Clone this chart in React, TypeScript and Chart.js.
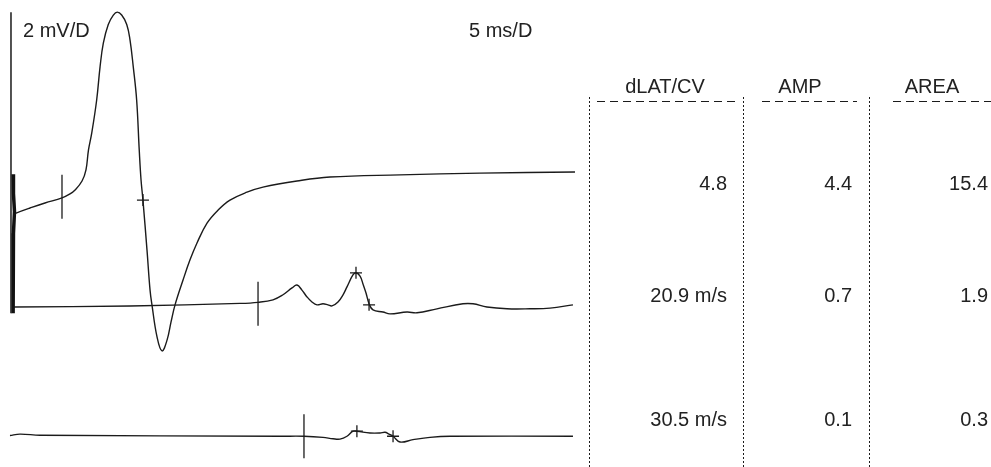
import React, { useEffect, useRef } from "react";
import { Chart, registerables } from "chart.js";

Chart.register(...registerables);

// ---- Waveform data: time in ms, amplitude in mV relative to each trace's own baseline ----
const trace1X = [0.18, 0.36, 1.6, 2.93, 4.44, 5.15, 5.6, 6.22, 6.57, 6.79, 7.08, 7.52, 7.82, 8.11, 8.55, 9.0, 9.35, 9.74, 10.19, 10.48, 10.77, 11.07, 11.3, 11.46, 11.63, 11.99, 12.26, 12.43, 12.88, 13.32, 13.77, 14.12, 14.48, 15.19, 15.81, 16.43, 17.32, 18.29, 19.36, 20.87, 22.29, 25.31, 28.24, 34.46, 41.56, 50.0];
const trace1Y = [-1.17, -1.14, -1.0, -0.86, -0.72, -0.61, -0.5, -0.25, 0.06, 0.61, 1.08, 2.0, 2.92, 3.58, 4.1, 4.36, 4.44, 4.36, 4.1, 3.67, 2.92, 2.0, 0.61, -0.22, -0.78, -2.17, -3.28, -3.69, -4.58, -4.97, -4.67, -4.17, -3.69, -3.0, -2.44, -1.97, -1.42, -1.06, -0.78, -0.56, -0.42, -0.25, -0.14, -0.08, -0.03, 0.0];

const trace2X = [0.18, 10.48, 20.25, 21.85, 23.18, 24.07, 24.87, 25.31, 25.75, 26.2, 26.64, 27.09, 27.62, 28.06, 28.42, 28.95, 29.4, 29.75, 30.28, 30.55, 30.91, 31.17, 31.44, 31.71, 32.06, 32.95, 33.57, 35.08, 35.97, 37.74, 40.05, 40.94, 42.18, 43.96, 46.0, 47.78, 49.82];
const trace2Y = [-0.03, 0.0, 0.07, 0.1, 0.17, 0.31, 0.5, 0.58, 0.44, 0.25, 0.11, 0.03, 0.06, 0.03, 0.0, 0.11, 0.31, 0.53, 0.86, 0.92, 0.83, 0.61, 0.36, 0.06, -0.11, -0.17, -0.22, -0.17, -0.19, -0.08, 0.06, 0.06, -0.03, -0.08, -0.08, -0.06, 0.03];

const trace3X = [-0.18, 0.71, 2.49, 23.8, 25.93, 27.62, 28.51, 29.13, 29.75, 30.28, 30.63, 31.79, 32.68, 33.13, 33.48, 33.84, 34.46, 35.61, 37.12, 38.9, 49.82];
const trace3Y = [-0.01, 0.03, 0.0, -0.03, -0.03, -0.06, -0.1, -0.11, -0.03, 0.11, 0.11, 0.06, 0.06, 0.08, 0.03, -0.03, -0.19, -0.125, -0.06, -0.03, -0.03];

// Baselines of the traces (mV, display offset)
const traceOffsets = [0, -3.72, -7.31];

// Onset markers (vertical ticks) and peak markers (+)
const onsetX = [4.44, 21.85, 25.93];
const onsetY = [-0.69, 0.06, -0.03];
const trace1CrossX = [11.63];
const trace1CrossY = [-0.78];
const trace2CrossX = [30.55, 31.71];
const trace2CrossY = [0.92, 0.03];
const trace3CrossX = [30.63, 33.84];
const trace3CrossY = [0.11, -0.03];

// Amplitude reference bar and stimulus artifact (trace-1 frame)
const axisBarX = [-0.09, -0.09];
const axisBarY = [4.44, -3.92];
const artifactX = [0.1, 0.13, 0.22, 0.13, 0.1];
const artifactY = [-0.06, -0.6, -1.1, -1.7, -3.92];

// Labels and table
const scaleLabels = ["2 mV/D", "5 ms/D"];
const columnHeaders = ["dLAT/CV", "AMP", "AREA"];
const dlatCvValues = ["4.8", "20.9 m/s", "30.5 m/s"];
const ampValues = [4.4, 0.7, 0.1];
const areaValues = [15.4, 1.9, 0.3];

const INK = "#1b1b1b";
const FONT = '20px "Liberation Sans", Arial, Helvetica, sans-serif';

function pts(xs: number[], ys: number[], off = 0) {
  return xs.map((x, i) => ({ x, y: ys[i] + off }));
}

const tablePlugin = {
  id: "emgTable",
  afterDatasetsDraw(chart: any) {
    const ctx = chart.ctx as CanvasRenderingContext2D;
    ctx.save();
    ctx.fillStyle = "#222";
    ctx.font = FONT;
    ctx.textBaseline = "alphabetic";
    ctx.textAlign = "left";
    ctx.fillText(scaleLabels[0], 23, 37);
    ctx.fillText(scaleLabels[1], 469, 37);

    // headers
    const headerCenters = [665, 800, 932];
    ctx.textAlign = "center";
    columnHeaders.forEach((h, i) => ctx.fillText(h, headerCenters[i], 93));

    // dashed underlines
    ctx.strokeStyle = INK;
    ctx.lineWidth = 1;
    ctx.setLineDash([8, 5]);
    const underlines = [
      [597, 737],
      [762, 857],
      [893, 991],
    ];
    underlines.forEach(([a, b]) => {
      ctx.beginPath();
      ctx.moveTo(a, 101.5);
      ctx.lineTo(b, 101.5);
      ctx.stroke();
    });

    // dotted column separators
    ctx.setLineDash([2, 2]);
    [589.5, 743.5, 869.5].forEach((x) => {
      ctx.beginPath();
      ctx.moveTo(x, 97);
      ctx.lineTo(x, 467);
      ctx.stroke();
    });
    ctx.setLineDash([]);

    // values
    const rowBaselines = [190, 302, 426];
    ctx.textAlign = "right";
    rowBaselines.forEach((yb, r) => {
      ctx.fillText(dlatCvValues[r], 727, yb);
      ctx.fillText(ampValues[r].toFixed(1), 852, yb);
      ctx.fillText(areaValues[r].toFixed(1), 988, yb);
    });
    ctx.restore();
  },
};

export default function App() {
  const ref = useRef<HTMLCanvasElement | null>(null);

  useEffect(() => {
    if (!ref.current) return;
    const traceStyle = {
      borderColor: INK,
      borderWidth: 1.4,
      pointRadius: 0,
      fill: false,
      tension: 0.4,
    };
    const crossStyle = {
      showLine: false,
      pointStyle: "cross" as const,
      pointRadius: 6,
      pointBorderWidth: 1.3,
      pointBorderColor: INK,
      pointBackgroundColor: INK,
    };
    const chart = new Chart(ref.current, {
      type: "line",
      data: {
        datasets: [
          { label: "axis", data: pts(axisBarX, axisBarY), borderColor: INK, borderWidth: 1.5, pointRadius: 0, tension: 0 },
          { label: "artifact", data: pts(artifactX, artifactY), borderColor: "#111", borderWidth: 3.5, pointRadius: 0, tension: 0 },
          { label: "Trace 1", data: pts(trace1X, trace1Y, traceOffsets[0]), ...traceStyle },
          { label: "Trace 2", data: pts(trace2X, trace2Y, traceOffsets[1]), ...traceStyle },
          { label: "Trace 3", data: pts(trace3X, trace3Y, traceOffsets[2]), ...traceStyle },
          {
            label: "onset",
            data: onsetX.map((x, i) => ({ x, y: onsetY[i] + traceOffsets[i] })),
            showLine: false,
            pointStyle: "line",
            rotation: 90,
            pointRadius: 22,
            pointBorderWidth: 1.3,
            pointBorderColor: INK,
          },
          { label: "peak1", data: pts(trace1CrossX, trace1CrossY, traceOffsets[0]), ...crossStyle },
          { label: "peak2", data: pts(trace2CrossX, trace2CrossY, traceOffsets[1]), ...crossStyle },
          { label: "peak3", data: pts(trace3CrossX, trace3CrossY, traceOffsets[2]), ...crossStyle },
        ] as any,
      },
      options: {
        animation: false,
        responsive: true,
        maintainAspectRatio: false,
        layout: { padding: 0, autoPadding: false },
        plugins: { legend: { display: false }, tooltip: { enabled: false } },
        events: [],
        scales: {
          x: { type: "linear", display: false, min: -1.0657, max: 86.945 },
          y: { type: "linear", display: false, min: -8.194, max: 4.778 },
        },
      },
      plugins: [tablePlugin],
    });
    return () => chart.destroy();
  }, []);

  return (
    <div style={{ position: "fixed", left: 0, top: 0, width: 991, height: 467, background: "#fff" }}>
      <canvas ref={ref} style={{ display: "block" }} />
    </div>
  );
}
